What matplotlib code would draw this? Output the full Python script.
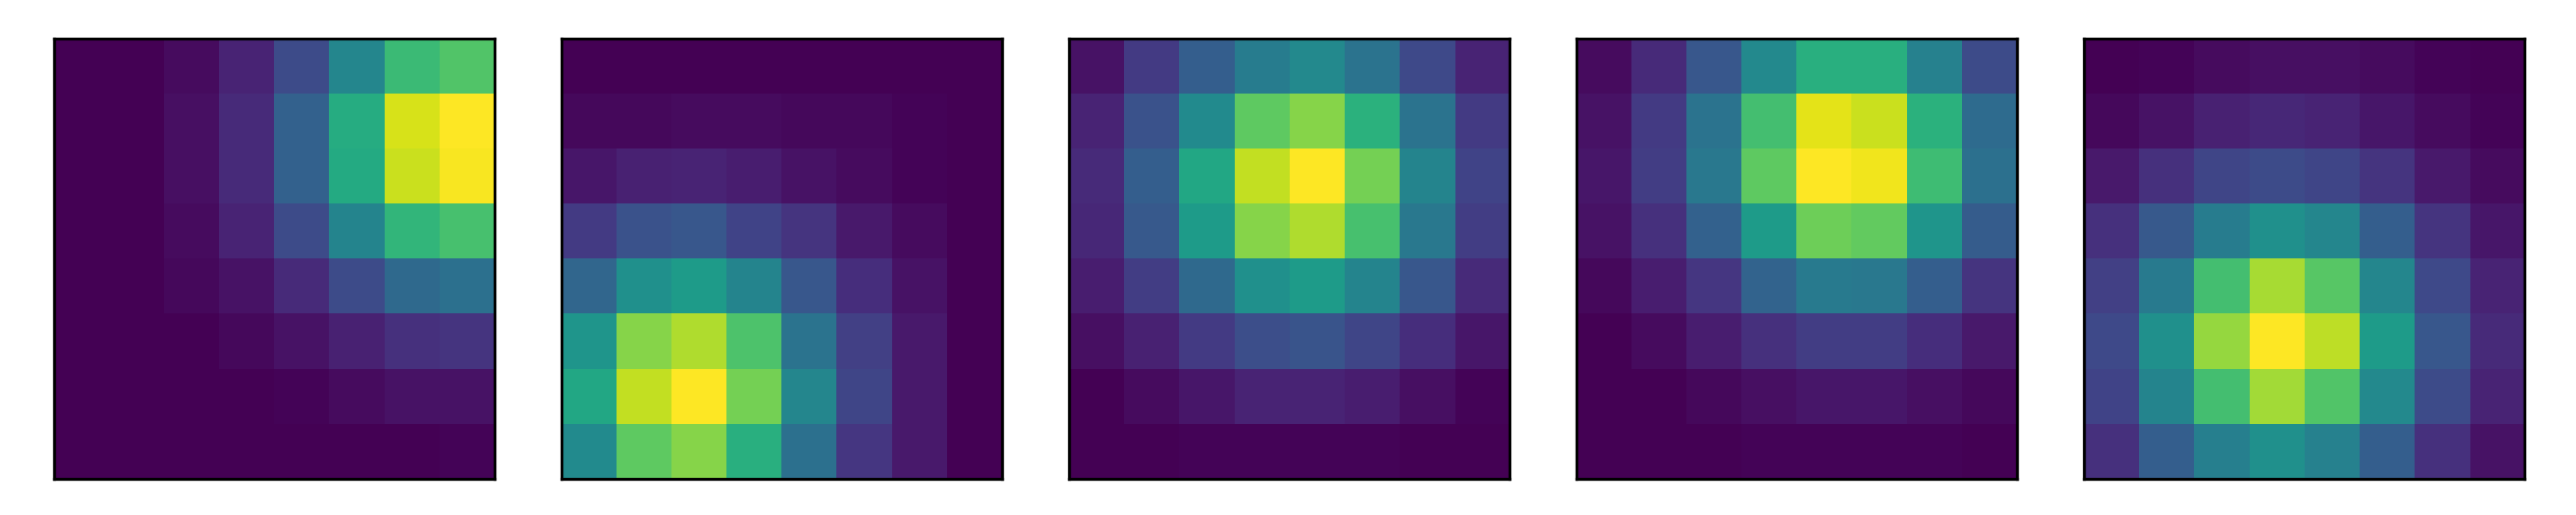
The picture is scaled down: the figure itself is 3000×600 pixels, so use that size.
import numpy as np
import matplotlib
matplotlib.use("Agg")
import matplotlib.pyplot as plt

# 8x8 intensity maps, rows top to bottom (each normalised to its own max)
map_corner = [
    [0.00, 0.00, 0.03, 0.10, 0.23, 0.46, 0.68, 0.73],
    [0.00, 0.00, 0.04, 0.12, 0.31, 0.62, 0.94, 1.00],
    [0.00, 0.00, 0.04, 0.12, 0.31, 0.61, 0.92, 0.99],
    [0.00, 0.00, 0.03, 0.10, 0.23, 0.45, 0.66, 0.71],
    [0.00, 0.00, 0.02, 0.05, 0.12, 0.23, 0.34, 0.37],
    [0.00, 0.00, 0.00, 0.02, 0.05, 0.09, 0.14, 0.15],
    [0.00, 0.00, 0.00, 0.00, 0.01, 0.03, 0.05, 0.05],
    [0.00, 0.00, 0.00, 0.00, 0.00, 0.00, 0.00, 0.01],
]
map_lower_left = [
    [0.00, 0.00, 0.00, 0.00, 0.00, 0.00, 0.00, 0.00],
    [0.02, 0.02, 0.03, 0.03, 0.02, 0.02, 0.01, 0.00],
    [0.06, 0.09, 0.10, 0.08, 0.05, 0.03, 0.01, 0.00],
    [0.17, 0.25, 0.27, 0.20, 0.15, 0.07, 0.03, 0.00],
    [0.33, 0.50, 0.55, 0.45, 0.27, 0.13, 0.05, 0.00],
    [0.52, 0.82, 0.88, 0.72, 0.38, 0.19, 0.07, 0.00],
    [0.60, 0.91, 1.00, 0.79, 0.46, 0.21, 0.07, 0.00],
    [0.48, 0.75, 0.82, 0.63, 0.37, 0.16, 0.07, 0.00],
]
map_center = [
    [0.05, 0.17, 0.30, 0.42, 0.47, 0.38, 0.22, 0.10],
    [0.10, 0.25, 0.48, 0.75, 0.82, 0.64, 0.38, 0.17],
    [0.12, 0.30, 0.60, 0.91, 1.00, 0.79, 0.45, 0.20],
    [0.11, 0.28, 0.55, 0.82, 0.88, 0.71, 0.40, 0.18],
    [0.08, 0.18, 0.34, 0.50, 0.55, 0.45, 0.27, 0.12],
    [0.04, 0.09, 0.17, 0.24, 0.26, 0.21, 0.13, 0.06],
    [0.00, 0.03, 0.06, 0.10, 0.10, 0.08, 0.04, 0.01],
    [0.00, 0.00, 0.01, 0.01, 0.01, 0.01, 0.00, 0.00],
]
map_upper = [
    [0.03, 0.12, 0.27, 0.47, 0.63, 0.63, 0.44, 0.23],
    [0.05, 0.17, 0.38, 0.70, 0.96, 0.92, 0.64, 0.35],
    [0.06, 0.18, 0.40, 0.75, 1.00, 0.98, 0.69, 0.37],
    [0.05, 0.14, 0.31, 0.55, 0.78, 0.76, 0.52, 0.29],
    [0.02, 0.08, 0.16, 0.32, 0.41, 0.40, 0.30, 0.15],
    [0.00, 0.03, 0.08, 0.14, 0.18, 0.18, 0.13, 0.07],
    [0.00, 0.00, 0.02, 0.04, 0.06, 0.06, 0.04, 0.02],
    [0.00, 0.00, 0.00, 0.01, 0.01, 0.01, 0.01, 0.00],
]
map_lower = [
    [0.00, 0.01, 0.03, 0.04, 0.04, 0.03, 0.01, 0.00],
    [0.02, 0.05, 0.09, 0.11, 0.10, 0.06, 0.03, 0.01],
    [0.07, 0.14, 0.21, 0.23, 0.21, 0.15, 0.07, 0.03],
    [0.14, 0.28, 0.42, 0.50, 0.46, 0.30, 0.15, 0.06],
    [0.19, 0.41, 0.70, 0.87, 0.74, 0.46, 0.22, 0.10],
    [0.22, 0.50, 0.84, 1.00, 0.90, 0.55, 0.27, 0.12],
    [0.20, 0.45, 0.70, 0.86, 0.73, 0.47, 0.23, 0.10],
    [0.14, 0.30, 0.43, 0.50, 0.44, 0.30, 0.14, 0.05],
]

maps = [map_corner, map_lower_left, map_center, map_upper, map_lower]

fig = plt.figure(figsize=(15, 3), dpi=200)

left0 = 63 / 3000
step = 591 / 3000
w = 513 / 3000
bottom = 42 / 600
h = 513 / 600

for i, m in enumerate(maps):
    ax = fig.add_axes([left0 + i * step, bottom, w, h])
    ax.imshow(np.array(m), cmap="viridis", aspect="auto", interpolation="nearest")
    ax.set_xticks([])
    ax.set_yticks([])
    for sp in ax.spines.values():
        sp.set_linewidth(1.2)

fig.savefig("out.png", dpi=200)
